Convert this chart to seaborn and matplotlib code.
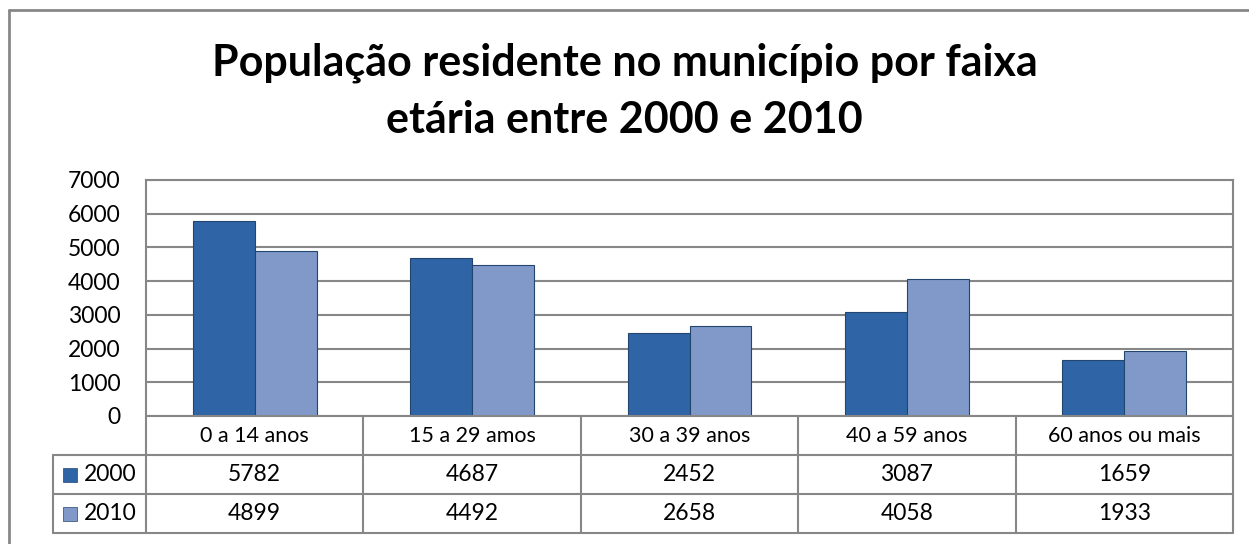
import pandas as pd
import numpy as np
import matplotlib.pyplot as plt
import seaborn as sns
from matplotlib.lines import Line2D
from matplotlib.patches import Rectangle

faixas = ["0 a 14 anos", "15 a 29 amos", "30 a 39 anos", "40 a 59 anos", "60 anos ou mais"]
pop_2000 = [5782, 4687, 2452, 3087, 1659]
pop_2010 = [4899, 4492, 2658, 4058, 1933]
anos = ["2000", "2010"]

df = pd.DataFrame({
    "faixa": faixas * 2,
    "ano": ["2000"] * len(faixas) + ["2010"] * len(faixas),
    "pop": pop_2000 + pop_2010,
})

cores = {"2000": "#2F64A6", "2010": "#8099C8"}
grid_col = "#878787"
font = "Lato"

sns.set_style("white")
plt.rcParams["font.family"] = [font, "DejaVu Sans"]
plt.rcParams["text.color"] = "black"
plt.rcParams["ytick.color"] = "black"

W, H = 1249, 544
fig = plt.figure(figsize=(W / 100, H / 100), dpi=100)

def fx(px):
    return px / W

def fy(py):
    return 1 - py / H

# plot area in pixels
L, R, T, B = 146, 1233, 180, 416
ax = fig.add_axes([fx(L), fy(B), fx(R) - fx(L), fy(T) - fy(B)])

sns.barplot(data=df, x="faixa", y="pop", hue="ano", palette=cores,
            width=0.57, ax=ax, legend=False, saturation=1,
            edgecolor="#23466F", linewidth=0.8)

ax.set_xlim(-0.5, 4.5)
ax.set_ylim(0, 7000)
ax.set_yticks(range(0, 7001, 1000))
ax.yaxis.grid(True, color=grid_col, linewidth=1.5)
ax.set_axisbelow(True)
ax.set_xticks([])
ax.set_xlabel("")
ax.set_ylabel("")
ax.tick_params(axis="y", labelsize=16.5, pad=18.5, length=0, labelcolor="black")
for lab in ax.get_yticklabels():
    lab.set_fontfamily(font)
for s in ["left", "top", "right"]:
    ax.spines[s].set_color(grid_col)
    ax.spines[s].set_linewidth(1.5)
ax.spines["bottom"].set_visible(False)

# title, two centred lines
fig.text(0.5, fy(75), "População residente no município por faixa",
         ha="center", va="baseline", fontsize=31, fontweight="bold", family=font)
fig.text(0.5, fy(133), "etária entre 2000 e 2010",
         ha="center", va="baseline", fontsize=31, fontweight="bold", family=font)

# data table below the axis
rows = [416, 455, 494, 533]
col_w = (R - L) / len(faixas)
cols = [L + i * col_w for i in range(len(faixas) + 1)]
legend_left = 53

def hline(x0, x1, y):
    fig.add_artist(Line2D([fx(x0), fx(x1)], [fy(y), fy(y)], color=grid_col, lw=1.5))

def vline(x, y0, y1):
    fig.add_artist(Line2D([fx(x), fx(x)], [fy(y0), fy(y1)], color=grid_col, lw=1.5))

hline(L, R, rows[0])
for y in rows[1:]:
    hline(legend_left, R, y)
for x in cols:
    vline(x, rows[0], rows[3])
vline(legend_left, rows[1], rows[3])

for i, f in enumerate(faixas):
    cx = (cols[i] + cols[i + 1]) / 2
    fig.text(fx(cx), fy((rows[0] + rows[1]) / 2), f, ha="center", va="center",
             fontsize=15.5, family=font)
    fig.text(fx(cx), fy((rows[1] + rows[2]) / 2), str(pop_2000[i]), ha="center",
             va="center", fontsize=16.5, family=font)
    fig.text(fx(cx), fy((rows[2] + rows[3]) / 2), str(pop_2010[i]), ha="center",
             va="center", fontsize=16.5, family=font)

for j, ano in enumerate(anos):
    cy = (rows[j + 1] + rows[j + 2]) / 2
    fig.add_artist(Rectangle((fx(63), fy(cy + 7)), fx(14), fy(0) - fy(14),
                             facecolor=cores[ano], edgecolor="#23466F", lw=0.5))
    fig.text(fx(84), fy(cy), ano, ha="left", va="center", fontsize=16.5, family=font)

# outer chart frame
fig.add_artist(Line2D([fx(9), fx(9)], [fy(10), fy(H + 5)], color=grid_col, lw=2))
fig.add_artist(Line2D([fx(9), fx(W + 5)], [fy(10), fy(10)], color=grid_col, lw=2))

fig.savefig("out.png", dpi=100, facecolor="white")
